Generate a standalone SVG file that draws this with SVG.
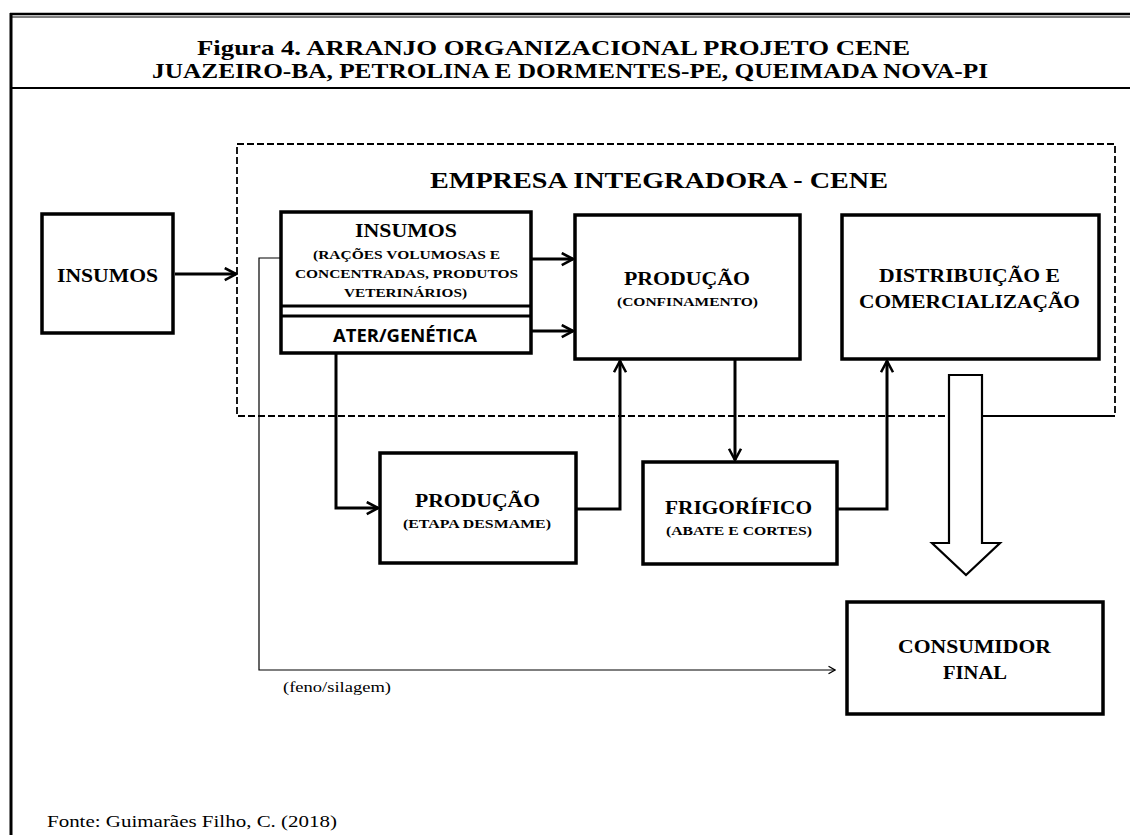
<svg xmlns="http://www.w3.org/2000/svg" width="1130" height="835" viewBox="0 0 1130 835">
<style>
.box{fill:#fff;stroke:#000;stroke-width:3.5}
.t{font-family:'Liberation Serif','Times New Roman',serif;font-weight:bold;fill:#000}
.r{font-family:'Liberation Serif','Times New Roman',serif;font-weight:normal;fill:#000}
.b{font-size:18px}
.s{font-size:13px}
.con{fill:none;stroke:#000;stroke-width:3}
.thin{fill:none;stroke:#000;stroke-width:1.2}
</style>
<defs>
<marker id="ah" viewBox="0 0 10 10" refX="9" refY="5" markerWidth="5" markerHeight="5" orient="auto" markerUnits="strokeWidth">
<path d="M1.5,1 L9,5 L1.5,9" fill="none" stroke="#000" stroke-width="1.7"/>
</marker>
<marker id="ahs" viewBox="0 0 10 10" refX="9" refY="5" markerWidth="9" markerHeight="9" orient="auto" markerUnits="strokeWidth">
<path d="M3,1.5 L9,5 L3,8.5" fill="none" stroke="#000" stroke-width="1.2"/>
</marker>
</defs>
<rect width="1130" height="835" fill="#fff"/>
<g id="frame">
<line x1="10" y1="14" x2="1130" y2="14" stroke="#000" stroke-width="2.5"/>
<line x1="10" y1="17" x2="1130" y2="17" stroke="#000" stroke-width="1"/>
<line x1="10" y1="88" x2="1130" y2="88" stroke="#000" stroke-width="2"/>
<line x1="11" y1="13" x2="11" y2="835" stroke="#000" stroke-width="3"/>
</g>
<g id="title">
<text class="t" x="197" y="55" font-size="21" textLength="713" lengthAdjust="spacingAndGlyphs">Figura 4.  ARRANJO ORGANIZACIONAL  PROJETO CENE</text>
<text class="t" x="152" y="78" font-size="21" textLength="836" lengthAdjust="spacingAndGlyphs">JUAZEIRO-BA, PETROLINA E DORMENTES-PE, QUEIMADA NOVA-PI</text>
</g>
<g id="empresa">
<rect x="237" y="144" width="878" height="272" fill="none" stroke="#000" stroke-width="1.8" stroke-dasharray="7,3"/>
<line x1="982" y1="416" x2="1115" y2="416" stroke="#000" stroke-width="1.8"/>
<text class="t" x="430" y="188" font-size="23" textLength="458" lengthAdjust="spacingAndGlyphs">EMPRESA INTEGRADORA - CENE</text>
</g>
<g id="connectors">
<line class="con" x1="175" y1="274" x2="236" y2="274" marker-end="url(#ah)"/>
<line class="con" x1="531" y1="259" x2="573" y2="259" marker-end="url(#ah)"/>
<line class="con" x1="531" y1="331" x2="573" y2="331" marker-end="url(#ah)"/>
<polyline class="con" points="336,353 336,508 378,508" marker-end="url(#ah)"/>
<polyline class="con" points="576,509 620,509 620,361" marker-end="url(#ah)"/>
<line class="con" x1="735" y1="359" x2="735" y2="460" marker-end="url(#ah)"/>
<polyline class="con" points="837,509 887,509 887,361" marker-end="url(#ah)"/>
<polyline class="thin" points="281,258 259,258 259,670 835,670" marker-end="url(#ahs)"/>
<text class="r" x="283" y="692" font-size="15" textLength="108" lengthAdjust="spacingAndGlyphs">(feno/silagem)</text>
<path d="M949,375 H982 V543 H1000 L966,575 L932,543 H949 Z" fill="#fff" stroke="#000" stroke-width="2.2"/>
</g>
<g id="insumos">
<rect class="box" x="42" y="214" width="131" height="119"/>
<text class="t b" x="57" y="282" textLength="101" lengthAdjust="spacingAndGlyphs">INSUMOS</text>
</g>
<g id="insumos-integradora">
<rect class="box" x="281" y="212" width="250" height="141"/>
<line x1="281" y1="306" x2="531" y2="306" stroke="#000" stroke-width="3"/>
<line x1="281" y1="316" x2="531" y2="316" stroke="#000" stroke-width="3"/>
<text class="t b" x="355" y="237" textLength="102" lengthAdjust="spacingAndGlyphs">INSUMOS</text>
<text class="t s" x="313" y="259" textLength="187" lengthAdjust="spacingAndGlyphs">(RAÇÕES VOLUMOSAS E</text>
<text class="t s" x="295" y="278" textLength="223" lengthAdjust="spacingAndGlyphs">CONCENTRADAS, PRODUTOS</text>
<text class="t s" x="344" y="297" textLength="123" lengthAdjust="spacingAndGlyphs">VETERINÁRIOS)</text>
<text x="333" y="342" font-family="'Open Sans','Liberation Sans',sans-serif" font-weight="bold" font-size="17" textLength="144" lengthAdjust="spacingAndGlyphs" fill="#000">ATER/GENÉTICA</text>
</g>
<g id="producao-confinamento">
<rect class="box" x="575" y="215" width="225" height="144"/>
<text class="t b" x="624" y="285" textLength="126" lengthAdjust="spacingAndGlyphs">PRODUÇÃO</text>
<text class="t s" x="617" y="306" textLength="141" lengthAdjust="spacingAndGlyphs">(CONFINAMENTO)</text>
</g>
<g id="distribuicao">
<rect class="box" x="842" y="215" width="257" height="144"/>
<text class="t b" x="879" y="282" textLength="181" lengthAdjust="spacingAndGlyphs">DISTRIBUIÇÃO  E</text>
<text class="t b" x="859" y="308" textLength="221" lengthAdjust="spacingAndGlyphs">COMERCIALIZAÇÃO</text>
</g>
<g id="producao-desmame">
<rect class="box" x="380" y="453" width="196" height="110"/>
<text class="t b" x="415" y="507" textLength="125" lengthAdjust="spacingAndGlyphs">PRODUÇÃO</text>
<text class="t s" x="403" y="528" textLength="148" lengthAdjust="spacingAndGlyphs">(ETAPA DESMAME)</text>
</g>
<g id="frigorifico">
<rect class="box" x="643" y="462" width="194" height="102"/>
<text class="t b" x="665" y="514" textLength="147" lengthAdjust="spacingAndGlyphs">FRIGORÍFICO</text>
<text class="t s" x="666" y="535" textLength="146" lengthAdjust="spacingAndGlyphs">(ABATE E CORTES)</text>
</g>
<g id="consumidor">
<rect class="box" x="847" y="602" width="256" height="112"/>
<text class="t b" x="898" y="653" textLength="153" lengthAdjust="spacingAndGlyphs">CONSUMIDOR</text>
<text class="t b" x="943" y="679" textLength="64" lengthAdjust="spacingAndGlyphs">FINAL</text>
</g>
<text class="r" x="47" y="827" font-size="17" textLength="290" lengthAdjust="spacingAndGlyphs">Fonte: Guimarães Filho, C. (2018)</text>
</svg>
